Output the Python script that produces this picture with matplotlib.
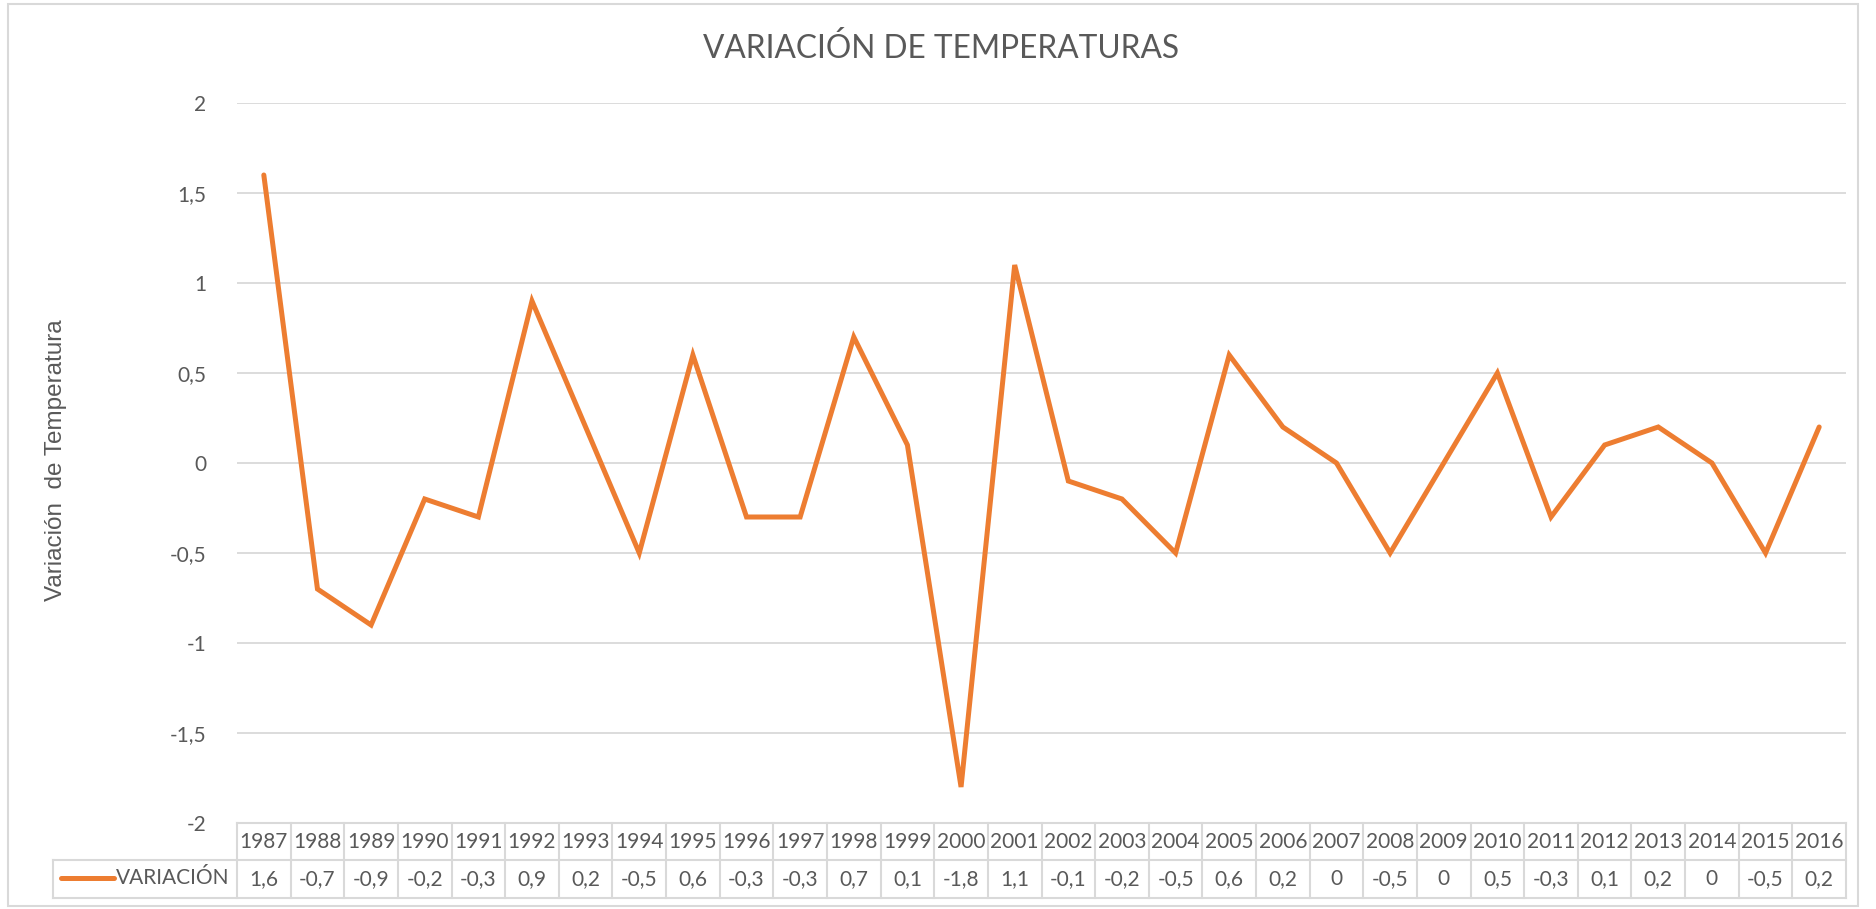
import matplotlib
matplotlib.use("Agg")
import matplotlib.pyplot as plt
from matplotlib.patches import Rectangle
from matplotlib.lines import Line2D
from matplotlib.ticker import FuncFormatter

years = list(range(1987, 2017))
variacion = [1.6, -0.7, -0.9, -0.2, -0.3, 0.9, 0.2, -0.5, 0.6, -0.3,
             -0.3, 0.7, 0.1, -1.8, 1.1, -0.1, -0.2, -0.5, 0.6, 0.2,
             0.0, -0.5, 0.0, 0.5, -0.3, 0.1, 0.2, 0.0, -0.5, 0.2]
series_name = "VARIACIÓN"
title = "VARIACIÓN DE TEMPERATURAS"
ylabel = "Variación  de Temperatura"
yticks = [-2, -1.5, -1, -0.5, 0, 0.5, 1, 1.5, 2]

W, H = 1876, 909
DPI = 100
ORANGE = "#ED7D31"
TEXT = "#595959"
GRID = "#D9D9D9"
FONT = ["Lato", "DejaVu Sans"]


def fmt(v):
    if abs(v) < 1e-9:
        return "0"
    s = ("%.1f" % v).rstrip("0").rstrip(".")
    return s.replace(".", ",")


fig = plt.figure(figsize=(W / DPI, H / DPI), dpi=DPI)
# chart border
fig.patches.append(Rectangle((8 / W, 1 - 906 / H), (1858 - 8) / W, (906 - 4) / H,
                             transform=fig.transFigure, fill=False,
                             edgecolor=GRID, linewidth=1.5))

x0, x1 = 237, 1846
y0, y1 = 103, 823
ax = fig.add_axes([x0 / W, 1 - y1 / H, (x1 - x0) / W, (y1 - y0) / H])
n = len(years)
xs = list(range(n))
ax.plot(xs, variacion, color=ORANGE, linewidth=3.6, solid_capstyle="round",
        solid_joinstyle="miter")
ax.set_xlim(-0.5, n - 0.5)
ax.set_ylim(-2, 2)
ax.set_yticks(yticks)
ax.yaxis.set_major_formatter(FuncFormatter(lambda v, p: fmt(v)))
ax.tick_params(axis="y", length=0, pad=22, labelsize=15, labelcolor=TEXT)
for lab in ax.get_yticklabels():
    lab.set_family(FONT)
ax.set_xticks([])
ax.grid(axis="y", color=GRID, linewidth=1.3)
ax.set_axisbelow(True)
for s in ax.spines.values():
    s.set_visible(False)

# title
fig.text(941 / W, 1 - 48 / H, title, ha="center", va="center",
         fontsize=22.8, color=TEXT, family=FONT)
# y label
fig.text(56 / W, 1 - 460 / H, ylabel, ha="center", va="center", rotation=90,
         fontsize=17.5, color=TEXT, family=["Liberation Sans", "DejaVu Sans"])

# data table
axh = y1 - y0
r1 = -37 / axh
r2 = -75 / axh
trans = ax.get_xaxis_transform()
tk = dict(color=GRID, linewidth=1.5, transform=trans, clip_on=False)
# horizontal lines
ax.add_line(Line2D([-0.5, n - 0.5], [0, 0], **tk))
legend_left = -0.5 - (x0 - 53) / ((x1 - x0) / n)
ax.add_line(Line2D([legend_left, n - 0.5], [r1, r1], **tk))
ax.add_line(Line2D([legend_left, n - 0.5], [r2, r2], **tk))
# vertical lines
for i in range(n + 1):
    ax.add_line(Line2D([i - 0.5, i - 0.5], [0, r2], **tk))
ax.add_line(Line2D([legend_left, legend_left], [r1, r2], **tk))
for i, (yr, v) in enumerate(zip(years, variacion)):
    ax.text(i, r1 / 2, str(yr), transform=trans, ha="center", va="center",
            fontsize=15, color=TEXT, family=FONT, clip_on=False)
    ax.text(i, (r1 + r2) / 2, fmt(v), transform=trans, ha="center", va="center",
            fontsize=15, color=TEXT, family=FONT, clip_on=False)
# legend key in table
ymid = 1 - 878 / H
fig.add_artist(Line2D([61 / W, 114 / W], [ymid, ymid], color=ORANGE,
                      linewidth=3.6, solid_capstyle="round",
                      transform=fig.transFigure))
fig.text(116 / W, ymid, series_name, ha="left", va="center", fontsize=15,
         color=TEXT, family=FONT)

fig.savefig("out.png", dpi=DPI)
